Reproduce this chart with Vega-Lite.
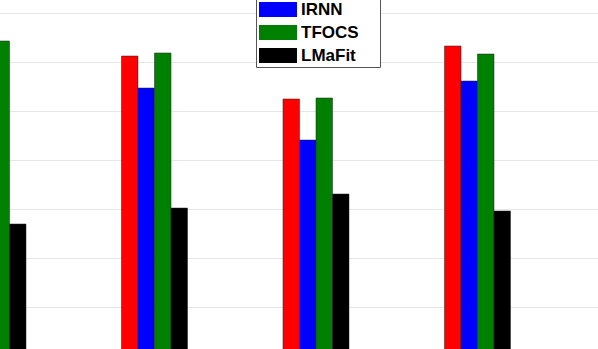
{
  "$schema": "https://vega.github.io/schema/vega-lite/v6.json",
  "autosize": {"type": "none"},
  "width": 598,
  "height": 349,
  "padding": 0,
  "background": "white",
  "config": {"view": {"stroke": null}},
  "data": {"values": [
    {"group": "G1", "method": "Proposed method", "value": 6.6},
    {"group": "G1", "method": "IRNN", "value": 5.9},
    {"group": "G1", "method": "TFOCS", "value": 6.429},
    {"group": "G1", "method": "LMaFit", "value": 2.694},
    {"group": "G2", "method": "Proposed method", "value": 6.122},
    {"group": "G2", "method": "IRNN", "value": 5.469},
    {"group": "G2", "method": "TFOCS", "value": 6.184},
    {"group": "G2", "method": "LMaFit", "value": 3.02},
    {"group": "G3", "method": "Proposed method", "value": 5.245},
    {"group": "G3", "method": "IRNN", "value": 4.408},
    {"group": "G3", "method": "TFOCS", "value": 5.265},
    {"group": "G3", "method": "LMaFit", "value": 3.306},
    {"group": "G4", "method": "Proposed method", "value": 6.327},
    {"group": "G4", "method": "IRNN", "value": 5.612},
    {"group": "G4", "method": "TFOCS", "value": 6.163},
    {"group": "G4", "method": "LMaFit", "value": 2.959}
  ]},
  "mark": {"type": "bar", "clip": true, "stroke": "#222", "strokeWidth": 0.5},
  "encoding": {
    "x": {
      "field": "group", "type": "nominal",
      "scale": {"domain": ["G1", "G2", "G3", "G4", "G5"], "range": [-40, 672], "paddingInner": 0.5913, "paddingOuter": 0},
      "axis": null
    },
    "xOffset": {
      "field": "method", "type": "nominal",
      "scale": {"domain": ["Proposed method", "IRNN", "TFOCS", "LMaFit"], "paddingInner": 0, "paddingOuter": 0}
    },
    "y": {
      "field": "value", "type": "quantitative",
      "scale": {"domain": [0.1429, 7.2653], "zero": false, "nice": false},
      "axis": {"values": [1, 2, 3, 4, 5, 6, 7], "grid": true, "gridColor": "#e6e6e6", "gridWidth": 1, "labels": false, "ticks": false, "domain": false, "title": null}
    },
    "color": {
      "field": "method", "type": "nominal",
      "scale": {"domain": ["Proposed method", "IRNN", "TFOCS", "LMaFit"], "range": ["#ff0000", "#0000ff", "#008000", "#000000"]},
      "legend": {
        "orient": "none", "legendX": 256, "legendY": -24,
        "title": null,
        "strokeColor": "#555", "fillColor": "white", "padding": 3,
        "symbolType": "M-1,-0.4H1V0.4H-1Z", "symbolSize": 1444, "symbolStrokeWidth": 0,
        "labelFont": "Liberation Sans", "labelFontWeight": "bold", "labelFontSize": 17, "labelColor": "black",
        "labelOffset": 4, "labelLimit": 80, "rowPadding": 5, "clipHeight": 15
      }
    }
  }
}
